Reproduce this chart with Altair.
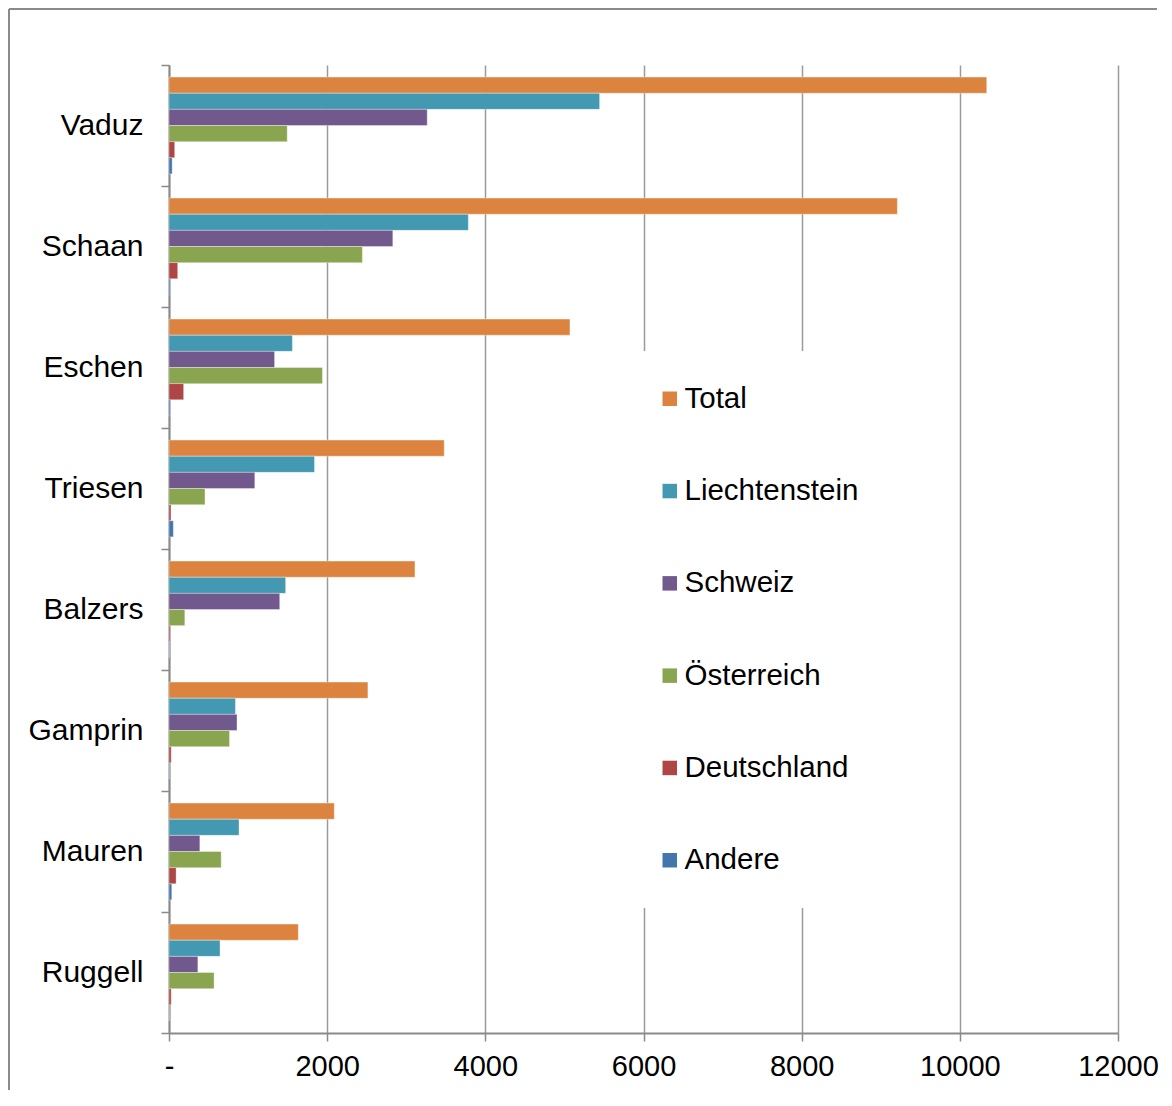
import altair as alt
import pandas as pd

municipalities = ["Vaduz", "Schaan", "Eschen", "Triesen", "Balzers", "Gamprin", "Mauren", "Ruggell"]
series = ["Total", "Liechtenstein", "Schweiz", "Österreich", "Deutschland", "Andere"]
colors = ["#DC843F", "#4399B1", "#71598D", "#8AA54F", "#AE4645", "#4575AD"]

total = [10340, 9210, 5070, 3480, 3110, 2515, 2090, 1635]
liechtenstein = [5445, 3785, 1560, 1840, 1475, 840, 885, 645]
schweiz = [3265, 2830, 1335, 1085, 1400, 860, 390, 365]
oesterreich = [1495, 2445, 1940, 455, 200, 765, 660, 570]
deutschland = [72, 110, 185, 25, 15, 28, 90, 28]
andere = [40, 15, 15, 55, 6, 8, 35, 4]

x_ticks = [0, 2000, 4000, 6000, 8000, 10000, 12000]

values = {
    "Total": total,
    "Liechtenstein": liechtenstein,
    "Schweiz": schweiz,
    "Österreich": oesterreich,
    "Deutschland": deutschland,
    "Andere": andere,
}
rows = []
for s in series:
    for m, v in zip(municipalities, values[s]):
        rows.append({"Gemeinde": m, "Herkunft": s, "Wert": v})
df = pd.DataFrame(rows)

FONT = "Liberation Sans"
AXIS_GRAY = "#8A8A8A"

bars = alt.Chart(df).mark_bar(stroke="white", strokeWidth=0.7, strokeOpacity=0.5).encode(
    y=alt.Y(
        "Gemeinde:N",
        sort=municipalities,
        title=None,
        scale=alt.Scale(paddingInner=0, paddingOuter=0),
        axis=alt.Axis(
            tickBand="extent",
            ticks=True,
            tickSize=8,
            tickColor=AXIS_GRAY,
            tickWidth=1.5,
            domainColor=AXIS_GRAY,
            domainWidth=2,
            labelFontSize=30,
            labelFont=FONT,
            labelColor="black",
            labelPadding=18,
            grid=False,
        ),
    ),
    yOffset=alt.YOffset(
        "Herkunft:N",
        sort=series,
        scale=alt.Scale(paddingInner=0, paddingOuter=0.75),
    ),
    x=alt.X(
        "Wert:Q",
        title=None,
        scale=alt.Scale(domain=[0, 12000], nice=False),
        axis=alt.Axis(
            values=x_ticks,
            format="d",
            labelExpr="datum.value == 0 ? '-' : datum.label",
            labelFlush=False,
            labelOverlap=False,
            tickSize=8,
            tickColor=AXIS_GRAY,
            tickWidth=1.5,
            domainColor=AXIS_GRAY,
            domainWidth=2,
            gridColor="#9A9A9A",
            gridWidth=1.5,
            labelFontSize=29,
            labelFont=FONT,
            labelColor="black",
            labelPadding=11,
        ),
    ),
    color=alt.Color(
        "Herkunft:N",
        sort=series,
        scale=alt.Scale(domain=series, range=colors),
        legend=alt.Legend(
            title=None,
            orient="none",
            legendX=453,
            legendY=286,
            direction="vertical",
            fillColor="white",
            padding=33,
            rowPadding=61.3,
            labelFontSize=29.5,
            labelFont=FONT,
            labelColor="black",
            labelLimit=400,
            labelOffset=0,
            symbolType="square",
            symbolSize=210,
            symbolStrokeWidth=0,
        ),
    ),
)

left_border = alt.Chart(df).mark_rule(color=AXIS_GRAY, strokeWidth=1.5).encode(
    x=alt.value(-160), y=alt.value(-56), y2=alt.value(1025)
)
top_border = alt.Chart(df).mark_rule(color=AXIS_GRAY, strokeWidth=1.5).encode(
    x=alt.value(-160), x2=alt.value(988), y=alt.value(-56)
)

chart = alt.layer(bars, left_border, top_border).properties(
    width=949, height=968, padding=0, background="white"
).configure_view(stroke=None)

chart.save("out.html", embed_options={"renderer": "svg", "actions": False})
